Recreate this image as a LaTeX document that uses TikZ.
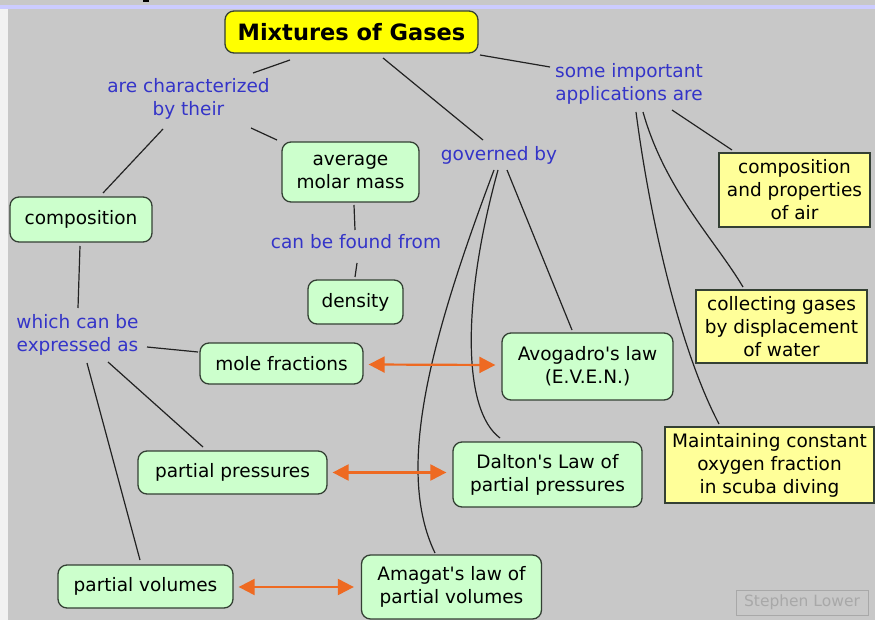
\documentclass[tikz,border=0pt]{standalone}
\usepackage{fontspec}
\setmainfont{DejaVu Sans}
\usetikzlibrary{arrows.meta}
\definecolor{bg}{HTML}{C8C8C8}
\definecolor{band}{HTML}{CCCCFF}
\definecolor{strip}{HTML}{F2F2F2}
\definecolor{cgreen}{HTML}{CCFFCC}
\definecolor{cyellow}{HTML}{FFFF99}
\definecolor{ctitle}{HTML}{FFFF00}
\definecolor{cborder}{HTML}{344034}
\definecolor{cblue}{HTML}{3434C8}
\definecolor{clink}{HTML}{222222}
\definecolor{corange}{HTML}{EE6A22}
\definecolor{cgrey}{HTML}{A8A8A8}
\newcommand\fs{\fontsize{18.5}{23}\selectfont}
\newcommand\ap{\textquotesingle}
\tikzset{
  concept/.style={draw=cborder, line width=1.3pt, fill=cgreen, rounded corners=9pt, align=center, inner sep=0pt, font=\fs},
  appbox/.style={draw=cborder, line width=1.2pt, fill=cyellow, align=center, inner sep=0pt, font=\fs},
  lbl/.style={text=cblue, align=center, inner sep=0pt, font=\fs},
  link/.style={draw=clink, line width=1.2pt},
  twoway/.style={draw=corange, line width=2.2pt, {Triangle[length=16pt,width=16pt]}-{Triangle[length=16pt,width=16pt]}},
}
\begin{document}
\begin{tikzpicture}[x=1pt,y=-1pt]
\useasboundingbox (0,0) rectangle (875,620);
% background
\fill[bg] (0,0) rectangle (875,620);
\fill[band] (0,5) rectangle (875,9);
\fill[strip] (0,9) rectangle (8,620);
\fill[black] (143,0) rectangle (149,2);

% nodes
\node[concept, fill=ctitle, minimum width=253pt, minimum height=42pt, font=\fontsize{22.5}{26}\selectfont\bfseries] (title) at (351.5,32) {Mixtures of Gases};
\node[lbl] (char) at (188.5,99) {are characterized\\by their};
\node[concept, minimum width=137pt, minimum height=60pt] (avg) at (350.5,172) {average\\molar mass};
\node[concept, minimum width=142pt, minimum height=45pt] (comp) at (81,219.5) {composition};
\node[lbl] (gov) at (499,155) {governed by};
\node[lbl] (some) at (629,83.5) {some important\\applications are};
\node[appbox, minimum width=151pt, minimum height=74pt] (air) at (794.5,190) {composition\\and properties\\of air};
\node[lbl] (found) at (356,242) {can be found from};
\node[concept, minimum width=95pt, minimum height=44pt] (dens) at (355.5,302) {density};
\node[lbl] (which) at (77.5,334.5) {which can be\\expressed as};
\node[concept, minimum width=163pt, minimum height=41pt] (mole) at (281.5,363.5) {mole fractions};
\node[concept, minimum width=171pt, minimum height=67pt] (avo) at (587.5,366.5) {Avogadro\ap s law\\(E.V.E.N.)};
\node[appbox, minimum width=171pt, minimum height=73pt] (coll) at (781.5,326.5) {collecting gases\\by displacement\\of water};
\node[concept, minimum width=189pt, minimum height=43pt] (pp) at (232.5,472.5) {partial pressures};
\node[concept, minimum width=189pt, minimum height=65pt] (dal) at (547.5,474.5) {Dalton\ap s Law of\\partial pressures};
\node[appbox, minimum width=209pt, minimum height=76pt] (maint) at (769.5,465) {Maintaining constant\\oxygen fraction\\in scuba diving};
\node[concept, minimum width=175pt, minimum height=43pt] (pv) at (145.5,586.5) {partial volumes};
\node[concept, minimum width=180pt, minimum height=64pt] (amag) at (451.5,587) {Amagat\ap s law of\\partial volumes};
\node[draw=cgrey, line width=1pt, text=cgrey, minimum width=132pt, minimum height=25pt, inner sep=0pt, font=\fontsize{15.5}{18}\selectfont] (sig) at (802,602.5) {Stephen Lower};

% links
\draw[link] ([shift={(-61.5,28)}]title.center) -- ([shift={(64.5,-26)}]char.center);
\draw[link] ([shift={(-25.5,30)}]char.center) -- ([shift={(22,-26.5)}]comp.center);
\draw[link] ([shift={(62.5,29)}]char.center) -- ([shift={(-73.5,-32)}]avg.center);
\draw[link] ([shift={(31.5,26)}]title.center) -- ([shift={(-16,-15)}]gov.center);
\draw[link] ([shift={(128.5,23)}]title.center) -- ([shift={(-79,-16.5)}]some.center);
\draw[link] ([shift={(43,26.5)}]some.center) -- ([shift={(-62.5,-40)}]air.center);
\draw[link] ([shift={(14,28.5)}]some.center) .. controls (665,190) and (715,240) .. ([shift={(-38.5,-39.5)}]coll.center);
\draw[link] ([shift={(7,28.5)}]some.center) .. controls (650,220) and (680,350) .. ([shift={(-50.5,-41)}]maint.center);
\draw[link] ([shift={(3.5,33)}]avg.center) -- ([shift={(-1,-12)}]found.center);
\draw[link] ([shift={(1,21)}]found.center) -- ([shift={(-0.5,-25)}]dens.center);
\draw[link] ([shift={(-1,26.5)}]comp.center) -- ([shift={(0.5,-26.5)}]which.center);
\draw[link] ([shift={(69.5,12.5)}]which.center) -- ([shift={(-83.5,-11.5)}]mole.center);
\draw[link] ([shift={(30.5,27.5)}]which.center) -- ([shift={(-29.5,-25.5)}]pp.center);
\draw[link] ([shift={(9.5,28.5)}]which.center) -- ([shift={(-5.5,-26.5)}]pv.center);
\draw[link] ([shift={(8,15)}]gov.center) -- ([shift={(-15.5,-36.5)}]avo.center);
\draw[link] ([shift={(-1,15)}]gov.center) .. controls (462,300) and (462,410) .. ([shift={(-47.5,-36.5)}]dal.center);
\draw[link] ([shift={(-5,15)}]gov.center) .. controls (430,340) and (395,470) .. ([shift={(-16.5,-34)}]amag.center);

% two-way arrows
\draw[twoway] ([shift={(5,1)}]mole.east) -- ([shift={(-6,-1.5)}]avo.west);
\draw[twoway] ([shift={(5,0)}]pp.east) -- ([shift={(-6,-2)}]dal.west);
\draw[twoway] ([shift={(5,0.5)}]pv.east) -- ([shift={(-7,0)}]amag.west);
\end{tikzpicture}
\end{document}
